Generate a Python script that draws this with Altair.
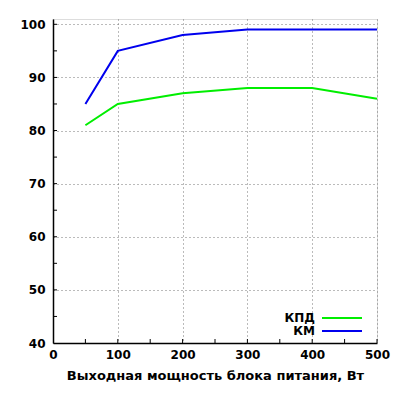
import altair as alt
import pandas as pd

power = [50, 100, 200, 300, 400, 500]
kpd = [81, 85, 87, 88, 88, 86]
km = [85, 95, 98, 99, 99, 99]
series_names = ["КПД", "КМ"]
series_colors = ["#00ee00", "#0000ee"]
x_ticks = [0, 100, 200, 300, 400, 500]
y_ticks = [40, 50, 60, 70, 80, 90, 100]
x_minor = [50, 100, 150, 200, 250, 300, 350, 400, 450, 500]
y_minor = [45, 50, 55, 60, 65, 70, 75, 80, 85, 90, 95, 100]

df = pd.DataFrame({
    "x": power * 2,
    "y": kpd + km,
    "s": [series_names[0]] * len(power) + [series_names[1]] * len(power),
})

font = "DejaVu Sans"
xs = alt.Scale(domain=[0, 500], nice=False)
ys = alt.Scale(domain=[40, 101], nice=False, zero=False)

lines = alt.Chart(df).mark_line(strokeWidth=2).encode(
    x=alt.X("x:Q", scale=xs, title="Выходная мощность блока питания, Вт",
            axis=alt.Axis(values=x_ticks, format="d", grid=True, gridDash=[1, 3],
                          gridColor="#777", domainColor="black", domainWidth=1.5,
                          tickSize=0, labelPadding=6, labelFont=font, labelFontSize=12,
                          labelFontWeight="bold", labelColor="black", labelFlush=False,
                          titleFont=font, titleFontSize=13, titleFontWeight="bold",
                          titleColor="black", titlePadding=9)),
    y=alt.Y("y:Q", scale=ys, title=None,
            axis=alt.Axis(values=y_ticks, grid=True, gridDash=[1, 3], gridColor="#777",
                          domainColor="black", domainWidth=1.5, tickSize=0,
                          labelPadding=8, labelFont=font, labelFontSize=12,
                          labelFontWeight="bold", labelColor="black")),
    color=alt.Color("s:N", sort=series_names,
                    scale=alt.Scale(domain=series_names, range=series_colors),
                    legend=alt.Legend(title=None, orient="none", legendX=283, legendY=293,
                                      symbolType="M-4,0H4", symbolSize=100,
                                      symbolStrokeWidth=2, symbolFillColor="transparent",
                                      labelAlign="right", labelOffset={"expr": "-33"},
                                      labelFont=font, labelFontSize=12,
                                      labelFontWeight="bold", labelColor="black",
                                      rowPadding=1, padding=0)),
)

xt = alt.Chart(pd.DataFrame({"v": x_minor})).mark_rule(color="black", strokeWidth=1).encode(
    x=alt.X("v:Q", scale=xs), y=alt.datum(40), y2=alt.datum(40.75))
yt = alt.Chart(pd.DataFrame({"v": y_minor})).mark_rule(color="black", strokeWidth=1).encode(
    y=alt.Y("v:Q", scale=ys), x=alt.datum(0), x2=alt.datum(6.2))

chart = alt.layer(xt, yt, lines).properties(
    width=324, height=324,
    autosize=alt.AutoSizeParams(type="none"),
    padding={"left": 45, "top": 11, "right": 15, "bottom": 49},
).configure_view(stroke=None).configure(background="white")

chart.save("out.html", embed_options={"renderer": "svg", "actions": False})
